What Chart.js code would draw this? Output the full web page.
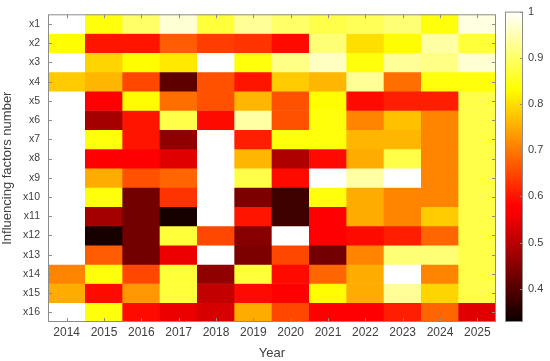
<!DOCTYPE html>
<html><head><meta charset="utf-8">
<script src="https://cdn.jsdelivr.net/npm/chart.js@4.4.1/dist/chart.umd.min.js"></script>
<style>
html,body{margin:0;padding:0;background:#fff;}
#wrap{position:relative;width:550px;height:361px;}
#main{position:absolute;left:0;top:0;}
#cbar{position:absolute;left:500px;top:0;}
</style></head>
<body><div id="wrap">
<canvas id="main" width="550" height="361"></canvas>
<canvas id="cbar" width="50" height="361"></canvas>
</div>
<script>
const years = ['2014','2015','2016','2017','2018','2019','2020','2021','2022','2023','2024','2025'];
const factors = ['x1','x2','x3','x4','x5','x6','x7','x8','x9','x10','x11','x12','x13','x14','x15','x16'];
const x1  = [1.00,0.84,0.90,0.97,0.87,0.93,0.90,0.88,0.89,0.91,0.84,0.98];
const x2  = [0.83,0.60,0.60,0.67,0.64,0.63,0.59,0.91,0.80,0.83,0.94,0.87];
const x3  = [1.00,0.79,0.83,0.81,1.00,0.84,0.92,0.96,0.84,0.93,0.92,0.97];
const x4  = [0.78,0.76,0.65,0.41,0.66,0.60,0.78,0.76,0.93,0.69,0.84,0.84];
const x5  = [1.00,0.57,0.83,0.69,0.66,0.76,0.66,0.83,0.59,0.61,0.61,0.88];
const x6  = [1.00,0.48,0.60,0.88,0.59,0.94,0.66,0.84,0.71,0.77,0.71,0.88];
const x7  = [1.00,0.84,0.60,0.46,1.00,0.61,0.84,0.84,0.76,0.76,0.71,0.88];
const x8  = [1.00,0.57,0.58,0.54,1.00,0.76,0.49,0.59,0.75,0.88,0.71,0.88];
const x9  = [1.00,0.75,0.66,0.68,1.00,0.88,0.59,1.00,0.94,1.00,0.71,0.88];
const x10 = [1.00,0.84,0.43,0.63,1.00,0.44,0.38,0.84,0.75,0.71,0.71,0.88];
const x11 = [1.00,0.48,0.43,0.34,1.00,0.60,0.38,0.57,0.75,0.71,0.78,0.88];
const x12 = [1.00,0.34,0.43,0.87,0.65,0.45,1.00,0.58,0.59,0.61,0.68,0.88];
const x13 = [1.00,0.67,0.43,0.55,1.00,0.44,0.65,0.43,0.71,0.91,0.91,0.88];
const x14 = [0.71,0.84,0.65,0.87,0.46,0.87,0.59,0.68,0.75,1.00,0.71,0.88];
const x15 = [0.75,0.59,0.73,0.87,0.51,0.59,0.57,0.83,0.75,0.93,0.79,0.88];
const x16 = [1.00,0.84,0.59,0.55,0.53,0.75,0.65,0.57,0.58,0.61,0.68,0.54];
const rows = [x1,x2,x3,x4,x5,x6,x7,x8,x9,x10,x11,x12,x13,x14,x15,x16];
const cbarTicks = [0.4,0.5,0.6,0.7,0.8,0.9,1];
const vMin = 0.328, vMax = 1.0;

function hot(v){
  let t = (v - vMin)/(vMax - vMin); t = Math.max(0, Math.min(1, t));
  const r = Math.min(1, 1/24 + t/0.375);
  const g = Math.max(0, Math.min(1, (t-0.375)/0.375));
  const b = Math.max(0, Math.min(1, (t-0.75)/0.25));
  return 'rgb(' + Math.round(r*255) + ',' + Math.round(g*255) + ',' + Math.round(b*255) + ')';
}

const FONT = "'Liberation Sans', Arial, sans-serif";
const axisGray = '#8c8c8c';
const textCol = '#404040';

const framePlugin = {
  id: 'frame',
  afterDraw(chart){
    const {ctx, chartArea:a} = chart;
    ctx.save();
    ctx.strokeStyle = axisGray; ctx.lineWidth = 1;
    ctx.strokeRect(a.left+0.5, a.top+0.5, a.right-a.left-1, a.bottom-a.top-1);
    const xs = chart.scales.x, ys = chart.scales.y;
    ctx.beginPath();
    xs.ticks.forEach((t,i)=>{
      const px = Math.round(xs.getPixelForTick(i))+0.5;
      ctx.moveTo(px, a.top); ctx.lineTo(px, a.top+4);
      ctx.moveTo(px, a.bottom); ctx.lineTo(px, a.bottom-4);
    });
    ys.ticks.forEach((t,i)=>{
      const py = Math.round(ys.getPixelForValue(t.value))+0.5;
      ctx.moveTo(a.left, py); ctx.lineTo(a.left+4, py);
      ctx.moveTo(a.right, py); ctx.lineTo(a.right-4, py);
    });
    ctx.stroke();
    ctx.restore();
  }
};

new Chart(document.getElementById('main'), {
  type: 'bar',
  data: {
    labels: years,
    datasets: rows.map((r, i) => ({
      label: factors[i],
      data: r.map(() => 1),
      backgroundColor: r.map(hot),
      borderWidth: 0,
      barPercentage: 1.0,
      categoryPercentage: 1.0,
      stack: 's'
    }))
  },
  options: {
    responsive: false, animation: false,
    layout: { padding: { left: 0, right: 54, top: 10, bottom: 0 } },
    plugins: { legend: { display: false }, tooltip: { enabled: false } },
    scales: {
      x: {
        stacked: true,
        grid: { display: false, drawTicks: false },
        border: { display: false },
        ticks: { color: textCol, font: { family: FONT, size: 12 }, padding: 3, maxRotation: 0 },
        title: { display: true, text: 'Year', color: textCol, font: { family: FONT, size: 13 }, padding: { top: 0, bottom: 0 } },
        afterFit(s){ s.height = 39; }
      },
      y: {
        stacked: true, reverse: true, min: 0, max: 16,
        grid: { display: false, drawTicks: false },
        border: { display: false },
        afterBuildTicks(s){ s.ticks = factors.map((f,i)=>({ value: i + 0.5 })); },
        ticks: {
          color: textCol, font: { family: FONT, size: 10.5 }, padding: 8, autoSkip: false,
          callback: (v) => factors[Math.floor(v)]
        },
        title: { display: true, text: 'Influencing factors number', color: textCol, font: { family: FONT, size: 13 }, padding: { top: 0, bottom: 2 } },
        afterFit(s){ s.width = 48; }
      }
    }
  },
  plugins: [framePlugin]
});

const cbarPlugin = {
  id: 'cbarFrame',
  afterDraw(chart){
    const {ctx, chartArea:a} = chart;
    const ys = chart.scales.y;
    ctx.save();
    ctx.strokeStyle = axisGray; ctx.lineWidth = 1;
    ctx.strokeRect(a.left+0.5, a.top+0.5, a.right-a.left-1, a.bottom-a.top-1);
    ctx.beginPath();
    ys.ticks.forEach(t=>{
      const py = Math.round(ys.getPixelForValue(t.value))+0.5;
      ctx.moveTo(a.right, py); ctx.lineTo(a.right-3, py);
    });
    ctx.stroke();
    ctx.restore();
  }
};

new Chart(document.getElementById('cbar'), {
  type: 'bar',
  data: {
    labels: [''],
    datasets: [{
      data: [[vMin, vMax]],
      barPercentage: 1.0, categoryPercentage: 1.0, borderWidth: 0,
      backgroundColor(ctx){
        const ch = ctx.chart; const a = ch.chartArea;
        if (!a) return 'black';
        const ys = ch.scales.y;
        const g = ch.ctx.createLinearGradient(0, ys.getPixelForValue(vMin), 0, ys.getPixelForValue(vMax));
        for (let k = 0; k <= 40; k++) { const v = vMin + (vMax - vMin)*k/40; g.addColorStop(k/40, hot(v)); }
        return g;
      }
    }]
  },
  options: {
    responsive: false, animation: false,
    layout: { padding: { left: 5, right: 0, top: 10, bottom: 39 } },
    plugins: { legend: { display: false }, tooltip: { enabled: false } },
    scales: {
      x: { display: false },
      y: {
        position: 'right', min: vMin, max: vMax,
        grid: { display: false, drawTicks: false },
        border: { display: false },
        afterBuildTicks(s){ s.ticks = cbarTicks.map(v=>({ value: v })); },
        ticks: { color: textCol, font: { family: FONT, size: 11 }, padding: 5, callback: v => String(+v.toFixed(1)) },
        afterFit(s){ s.width = 27; }
      }
    }
  },
  plugins: [cbarPlugin]
});
</script>
</body></html>
